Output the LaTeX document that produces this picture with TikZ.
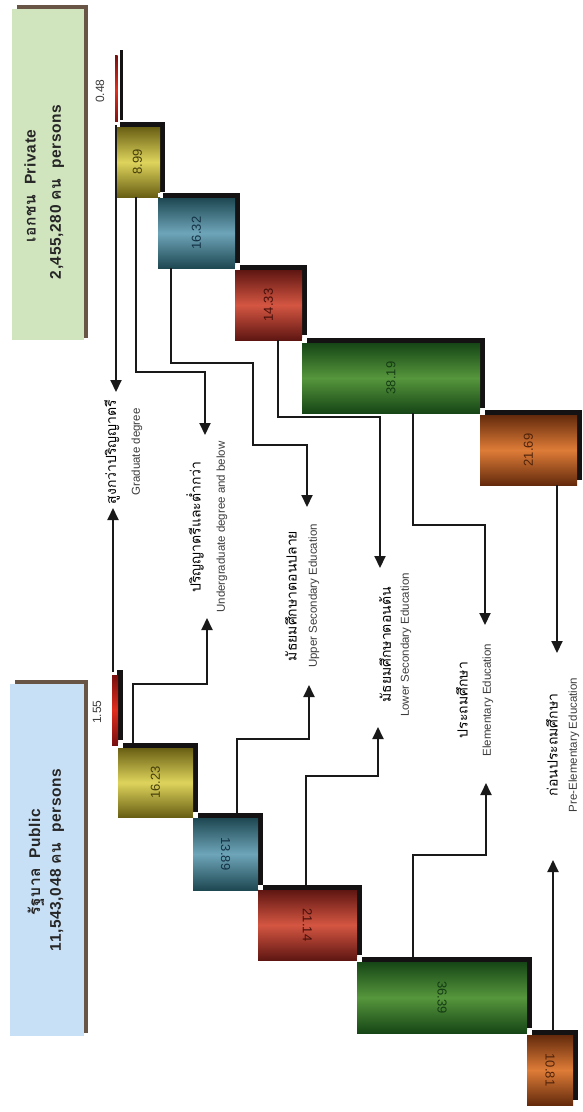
\documentclass[tikz,border=0pt]{standalone}
\usepackage{fontspec}
\setmainfont{Liberation Sans}
\newfontfamily\thai[Script=Thai]{Loma}
\newfontfamily\boxf[LetterSpace=4]{Liberation Sans}
\newfontfamily\boxthai[Script=Thai,LetterSpace=4]{Loma}
\usetikzlibrary{arrows.meta}
\definecolor{lnc}{RGB}{25,25,25}
\definecolor{brownb}{RGB}{105,85,70}
\definecolor{pubfill}{RGB}{200,224,245}
\definecolor{privfill}{RGB}{208,228,190}
\definecolor{yelD}{RGB}{105,95,20}\definecolor{yelM}{RGB}{222,212,92}
\definecolor{tealD}{RGB}{30,72,82}\definecolor{tealM}{RGB}{110,165,185}
\definecolor{redD}{RGB}{95,22,18}\definecolor{redM}{RGB}{212,86,66}
\definecolor{grnD}{RGB}{22,70,22}\definecolor{grnM}{RGB}{86,150,60}
\definecolor{orgD}{RGB}{100,42,12}\definecolor{orgM}{RGB}{222,124,56}
\definecolor{thinD}{RGB}{120,15,15}\definecolor{thinM}{RGB}{225,45,30}
\definecolor{shd}{RGB}{20,18,18}
\definecolor{txtg}{RGB}{60,60,60}
\newcommand{\mybar}[7]{%
  \fill[shd] ({#2+5},{#3-5}) rectangle ({#4+5},{#5-5});
  \shade[top color=#6, bottom color=#6, middle color=#7] (#2,#3) rectangle (#4,#5);
  \coordinate (#1) at ({(#2+#4)/2},{(#3+#5)/2});
}
\newcommand{\wsq}[2]{\fill[white] ({#1},{#2-5}) rectangle ({#1+4},{#2-1});}
\tikzset{
  conn/.style={line width=2pt, draw=lnc, -{Triangle[width=11pt,length=12pt]}},
  vallbl/.style={rotate=90, inner sep=0, font=\fontsize{13}{15}\selectfont},
  vallbr/.style={rotate=-90, inner sep=0, font=\fontsize{13}{15}\selectfont},
  thlbl/.style={rotate=90, inner sep=0, text=black, font=\thai\fontsize{14}{16}\selectfont},
  enlbl/.style={rotate=90, inner sep=0, text=txtg, font=\fontsize{11.5}{13}\selectfont},
  boxlbl/.style={rotate=90, inner sep=0, text=black!85, font=\boxf\bfseries\fontsize{15.5}{17}\selectfont},
  smlbl/.style={rotate=90, inner sep=0, text=txtg, font=\fontsize{12}{14}\selectfont},
}
\begin{document}
\begin{tikzpicture}[x=1pt,y=-1pt]
\useasboundingbox (0,0) rectangle (582,1112);
\fill[white] (0,0) rectangle (582,1112);
% side boxes
\fill[privfill] (12,9) rectangle (84,340);
\fill[brownb] (17,5) rectangle (88,9);
\fill[brownb] (84,5) rectangle (88,338);
\fill[pubfill] (10,684) rectangle (84,1036);
\fill[brownb] (15,680) rectangle (88,684);
\fill[brownb] (84,680) rectangle (88,1033);
\node[boxlbl] (privA) at (30,186) {{\boxthai เอกชน}\ \ Private};
\node[boxlbl] (privB) at (57,192) {2,455,280 {\boxthai คน}\ \ persons};
\node[boxlbl] (pubA) at (36,862) {{\boxthai รัฐบาล}\ \ Public};
\node[boxlbl] (pubB) at (57,860) {11,543,048 {\boxthai คน}\ \ persons};
% private bars
\mybar{p0}{115}{55}{117.5}{125}{thinD}{thinM}
\mybar{p1}{115}{127}{160}{197}{yelD}{yelM}
\mybar{p2}{158}{198}{235}{268}{tealD}{tealM}
\mybar{p3}{235}{270}{302}{340}{redD}{redM}
\mybar{p4}{302}{343}{480}{413}{grnD}{grnM}
\mybar{p5}{480}{415}{577}{485}{orgD}{orgM}
\wsq{115}{127}\wsq{158}{198}\wsq{235}{270}\wsq{302}{343}\wsq{480}{415}
% public bars
\mybar{q0}{112}{675}{118}{745}{thinD}{thinM}
\mybar{q1}{118}{748}{193}{817}{yelD}{yelM}
\mybar{q2}{193}{818}{258}{890}{tealD}{tealM}
\mybar{q3}{258}{890}{357}{960}{redD}{redM}
\mybar{q4}{357}{962}{527}{1033}{grnD}{grnM}
\mybar{q5}{527}{1035}{573}{1105}{orgD}{orgM}
\wsq{118}{748}\wsq{193}{818}\wsq{258}{890}\wsq{357}{962}\wsq{527}{1035}
% value labels
\node[smlbl] (v048) at (100,91) {0.48};
\node[smlbl] (v155) at (97,712) {1.55};
\node[vallbl, text={rgb,255:red,70;green,62;blue,10}] at (p1) {8.99};
\node[vallbl, text={rgb,255:red,20;green,50;blue,70}] at (p2) {16.32};
\node[vallbl, text={rgb,255:red,70;green,15;blue,10}] at (p3) {14.33};
\node[vallbl, text={rgb,255:red,20;green,60;blue,20}] at (p4) {38.19};
\node[vallbl, text={rgb,255:red,80;green,35;blue,10}] at (p5) {21.69};
\node[vallbl, text={rgb,255:red,70;green,62;blue,10}] at (q1) {16.23};
\node[vallbr, text={rgb,255:red,20;green,50;blue,70}] at (q2) {13.89};
\node[vallbr, text={rgb,255:red,70;green,15;blue,10}] at (q3) {21.14};
\node[vallbr, text={rgb,255:red,20;green,60;blue,20}] at (q4) {36.39};
\node[vallbr, text={rgb,255:red,80;green,35;blue,10}] at (q5) {10.81};
% category labels
\node[thlbl] (gT) at (112,452) {สูงกว่าปริญญาตรี};
\node[enlbl] (gE) at (137,452) {Graduate degree};
\node[thlbl] (uT) at (195,527) {ปริญญาตรีและต่ำกว่า};
\node[enlbl] (uE) at (222,527) {Undergraduate degree and below};
\node[thlbl] (sT) at (291,596) {มัธยมศึกษาตอนปลาย};
\node[enlbl] (sE) at (314,596) {Upper Secondary Education};
\node[thlbl] (lT) at (385,645) {มัธยมศึกษาตอนต้น};
\node[enlbl] (lE) at (406,645) {Lower Secondary Education};
\node[thlbl] (eT) at (462,700) {ประถมศึกษา};
\node[enlbl] (eE) at (488,700) {Elementary Education};
\node[thlbl] (kT) at (552,745) {ก่อนประถมศึกษา};
\node[enlbl] (kE) at (574,745) {Pre-Elementary Education};
% connector endpoints
\coordinate (gP) at (116,125);  \coordinate (gPt) at (116,392);
\coordinate (uP) at (136,197);  \coordinate (uPt) at (205,435);
\coordinate (sP) at (171,268);  \coordinate (sPt) at (307,507);
\coordinate (lP) at (278,340);  \coordinate (lPt) at (380,568);
\coordinate (eP) at (413,413);  \coordinate (ePt) at (485,625);
\coordinate (kP) at (557,485);  \coordinate (kPt) at (557,653);
\coordinate (gQ) at (113,672);  \coordinate (gQt) at (113,508);
\coordinate (uQ) at (133,743);  \coordinate (uQt) at (207,618);
\coordinate (sQ) at (237,813);  \coordinate (sQt) at (309,685);
\coordinate (lQ) at (306,885);  \coordinate (lQt) at (378,727);
\coordinate (eQ) at (413,957);  \coordinate (eQt) at (486,783);
\coordinate (kQ) at (553,1030); \coordinate (kQt) at (553,860);
% private connectors (down)
\draw[conn] (gP) -- (gPt);
\draw[conn] (uP) -- ++(0,175) -| (uPt);
\draw[conn] (sP) -- ++(0,95) -- ++(82,0) -- ++(0,82) -| (sPt);
\draw[conn] (lP) -- ++(0,77) -| (lPt);
\draw[conn] (eP) -- ++(0,112) -| (ePt);
\draw[conn] (kP) -- (kPt);
% public connectors (up)
\draw[conn] (gQ) -- (gQt);
\draw[conn] (uQ) -- ++(0,-59) -| (uQt);
\draw[conn] (sQ) -- ++(0,-74) -| (sQt);
\draw[conn] (lQ) -- ++(0,-109) -| (lQt);
\draw[conn] (eQ) -- ++(0,-102) -| (eQt);
\draw[conn] (kQ) -- (kQt);
\end{tikzpicture}
\end{document}
